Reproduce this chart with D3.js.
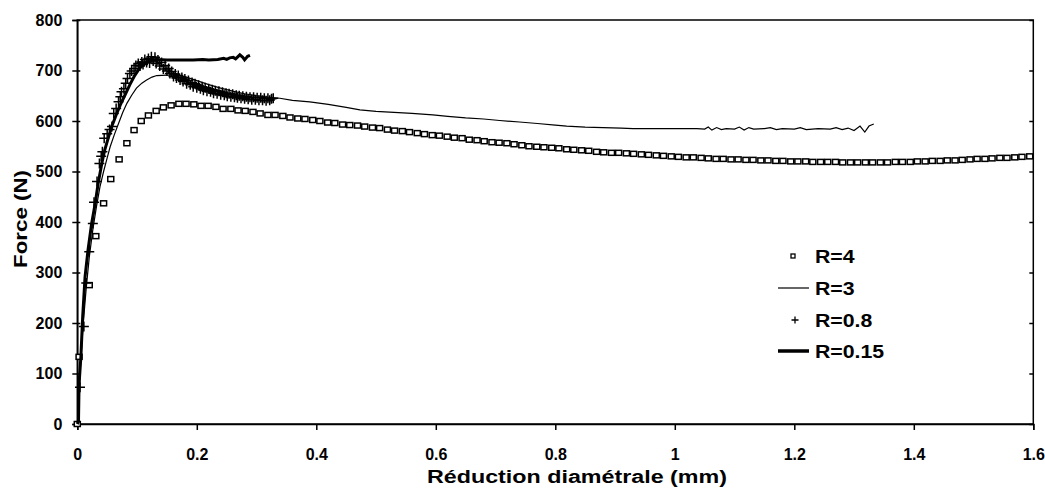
<!DOCTYPE html>
<html><head><meta charset="utf-8">
<script src="https://cdn.jsdelivr.net/npm/d3@7"></script>
<style>body{margin:0;background:#fff}svg{display:block}text{font-family:"Liberation Sans",Arial,sans-serif;font-weight:bold;fill:#000}</style>
</head><body><svg id="c" width="1045" height="491"></svg>
<script>
const xTicks = [0, 0.2, 0.4, 0.6, 0.8, 1, 1.2, 1.4, 1.6];
const yTicks = [0, 100, 200, 300, 400, 500, 600, 700, 800];
const seriesNames = ["R=4", "R=3", "R=0.8", "R=0.15"];
const xTitle = "Réduction diamétrale (mm)";
const yTitle = "Force (N)";

const r4 = [[0,0],[0.003,133],[0.020,275],[0.031,372],[0.044,437],[0.056,485],[0.070,524],[0.083,556],[0.095,582],[0.107,600],
[0.119,611],[0.132,620],[0.144,627],[0.157,631],[0.170,634],[0.182,634],[0.195,633],[0.207,630],[0.219,630],[0.232,628],
[0.244,624],[0.257,624],[0.269,621],[0.281,620],[0.294,618],[0.306,615],[0.319,612],[0.331,612],[0.344,610],[0.356,607],
[0.369,605],[0.381,604],[0.394,602],[0.406,600],[0.419,597],[0.431,596],[0.444,593],[0.456,592],[0.469,591],[0.481,589],
[0.494,587],[0.506,586],[0.519,583],[0.531,581],[0.544,580],[0.556,578],[0.569,576],[0.581,574],[0.594,572],[0.606,571],
[0.619,569],[0.631,567],[0.644,566],[0.656,563],[0.669,562],[0.681,560],[0.694,558],[0.706,557],[0.719,556],[0.731,554],
[0.744,552],[0.756,550],[0.769,549],[0.781,548],[0.794,547],[0.806,546],[0.819,544],[0.831,543],[0.844,542],[0.856,541],
[0.869,539],[0.881,538],[0.894,537],[0.906,537],[0.919,536],[0.931,535],[0.944,534],[0.956,533],[0.969,532],[0.981,531],
[0.994,530],[1.006,529],[1.019,528],[1.031,528],[1.044,527],[1.056,526],[1.069,525],[1.081,525],[1.094,524],[1.106,524],
[1.119,523],[1.131,523],[1.144,522],[1.156,522],[1.169,521],[1.181,521],[1.194,520],[1.206,520],[1.219,520],[1.231,519],
[1.244,519],[1.256,519],[1.269,519],[1.281,518],[1.294,518],[1.306,518],[1.319,518],[1.331,518],[1.344,518],[1.356,518],
[1.369,519],[1.381,519],[1.394,519],[1.406,520],[1.419,520],[1.431,521],[1.444,521],[1.456,522],[1.469,522],[1.481,523],
[1.494,524],[1.506,525],[1.519,525],[1.531,526],[1.544,527],[1.556,527],[1.569,528],[1.581,529],[1.594,530]];

const r3 = [[0,0],[0.003,60],[0.006,130],[0.010,200],[0.015,270],[0.020,330],[0.026,385],[0.032,430],[0.038,470],[0.044,500],
[0.050,527],[0.055,549],[0.062,573],[0.069,595],[0.076,617],[0.083,635],[0.091,651],[0.099,665],[0.108,675],[0.116,681],
[0.125,687],[0.133,690],[0.150,691],[0.166,691],[0.180,688],[0.200,680],[0.220,672],[0.240,665],[0.260,659],[0.280,654],
[0.300,650],[0.320,647],[0.339,645],[0.360,641],[0.389,638],[0.420,633],[0.450,627],[0.473,622],[0.500,619],[0.530,617],
[0.560,615],[0.595,612],[0.620,609],[0.650,606],[0.680,604],[0.707,601],[0.740,598],[0.770,595],[0.800,592],[0.819,590],
[0.850,588],[0.880,587],[0.910,586],[0.930,585],[0.960,585],[1.000,585],[1.037,585],[1.050,584],[1.056,588],[1.062,582],
[1.070,587],[1.078,583],[1.086,585],[1.100,584],[1.108,588],[1.116,582],[1.124,587],[1.132,584],[1.150,585],[1.160,587],
[1.170,583],[1.180,585],[1.200,584],[1.210,587],[1.220,583],[1.240,585],[1.260,584],[1.270,587],[1.280,583],[1.290,586],
[1.300,581],[1.310,590],[1.318,578],[1.325,590],[1.333,594]];

const r08 = [[0.0045,73],[0.011,193],[0.015,279],[0.020,341],[0.026,397],[0.028,439],[0.033,480],[0.037,516],[0.040,530],[0.042,539],
[0.045,566],[0.050,575],[0.054,583],[0.058,589],[0.061,615],[0.065,625],[0.069,638],[0.072,648],[0.074,658],[0.078,664],
[0.081,675],[0.084,684],[0.088,694],[0.091,699],[0.095,704],[0.098,710],[0.102,714],[0.105,709],[0.108,717],[0.110,712],
[0.113,722],[0.116,716],[0.119,724],[0.121,715],[0.124,727],[0.127,719],[0.130,726],[0.132,714],[0.135,721],[0.138,709],
[0.141,716],[0.144,703],[0.147,710],[0.150,699],[0.153,704],[0.155,694],[0.158,698],[0.161,688],[0.164,693],[0.166,685],
[0.169,690],[0.172,681],[0.175,686],[0.177,678],[0.180,683],[0.183,674],[0.186,680],[0.189,672],[0.192,676],[0.194,668],
[0.197,674],[0.200,666],[0.203,671],[0.206,664],[0.209,668],[0.211,661],[0.214,666],[0.217,659],[0.220,664],[0.223,658],
[0.226,662],[0.228,655],[0.231,660],[0.234,654],[0.237,659],[0.240,652],[0.243,657],[0.246,651],[0.249,655],[0.251,649],
[0.254,654],[0.257,648],[0.260,653],[0.263,647],[0.266,651],[0.268,646],[0.271,650],[0.274,645],[0.277,649],[0.280,644],
[0.283,648],[0.286,643],[0.289,647],[0.292,642],[0.295,647],[0.298,642],[0.301,646],[0.304,641],[0.307,646],[0.310,641],
[0.313,645],[0.316,640],[0.319,645],[0.322,641],[0.325,644],[0.328,645]];

const r015 = [[0,0],[0.002,5],[0.003,80],[0.006,133],[0.009,212],[0.013,292],[0.018,345],[0.024,397],[0.030,437],[0.035,477],
[0.041,516],[0.046,543],[0.052,567],[0.058,590],[0.065,612],[0.072,632],[0.080,652],[0.088,672],[0.096,690],[0.104,704],
[0.112,713],[0.120,719],[0.133,722],[0.150,721],[0.170,721],[0.194,721],[0.210,722],[0.220,721],[0.235,722],[0.245,724],
[0.250,722],[0.255,725],[0.261,726],[0.265,723],[0.272,731],[0.277,726],[0.280,721],[0.285,728],[0.289,730]];

const svg = d3.select("#c");
const L = 77.3, R = 1033.3, T = 20, B = 424;
const x = d3.scaleLinear().domain([0, 1.6]).range([L, R]);
const y = d3.scaleLinear().domain([0, 800]).range([B, T]);

svg.append("rect").attr("x", L).attr("y", T).attr("width", R - L).attr("height", B - T)
  .attr("fill", "none").attr("stroke", "#000").attr("stroke-width", 1.5);

const xa = svg.append("g").attr("transform", `translate(0,${B})`)
  .call(d3.axisBottom(x).tickValues(xTicks).tickSize(6).tickPadding(19).tickFormat(d => d3.format("")(d)));
xa.select(".domain").attr("stroke-width", 1.5);
xa.selectAll(".tick line").attr("stroke-width", 1.5);
xa.selectAll("text").style("font-size", "16px").attr("fill", "#000");

const ya = svg.append("g").attr("transform", `translate(${L},0)`)
  .call(d3.axisLeft(y).tickValues(yTicks).tickSize(5).tickPadding(10));
ya.select(".domain").attr("stroke-width", 1.5);
ya.selectAll(".tick line").attr("stroke-width", 1.5).attr("x2", -5).attr("x1", 3);
ya.selectAll("text").style("font-size", "16px").attr("fill", "#000");

const ra = svg.append("g").attr("transform", `translate(${R},0)`)
  .call(d3.axisLeft(y).tickValues(yTicks).tickSize(4).tickFormat(""));
ra.select(".domain").remove();
ra.selectAll(".tick line").attr("stroke-width", 1.5);

svg.append("text").attr("x", 427).attr("y", 483)
  .attr("textLength", 300).attr("lengthAdjust", "spacingAndGlyphs")
  .style("font-size", "18px").text(xTitle);
svg.append("text").attr("transform", "translate(27,268) rotate(-90)")
  .attr("textLength", 98).attr("lengthAdjust", "spacingAndGlyphs")
  .style("font-size", "18px").text(yTitle);

const g = svg.append("g");
const line = d3.line().x(d => x(d[0])).y(d => y(d[1]));

g.selectAll("rect.r4").data(r4).join("rect").attr("class", "r4")
  .attr("x", d => x(d[0]) - 3).attr("y", d => y(d[1]) - 2.5).attr("width", 6).attr("height", 5)
  .attr("fill", "#fff").attr("stroke", "#000").attr("stroke-width", 1.5);

g.append("path").datum(r3).attr("d", line).attr("fill", "none").attr("stroke", "#000").attr("stroke-width", 1.2);

g.append("path").datum(r015).attr("d", line).attr("fill", "none").attr("stroke", "#000").attr("stroke-width", 3);

const plus = (cx, cy, s) => `M${cx - s},${cy}H${cx + s}M${cx},${cy - s}V${cy + s}`;
g.append("path").attr("d", r08.map(d => plus(x(d[0]), y(d[1]), 5)).join(""))
  .attr("fill", "none").attr("stroke", "#000").attr("stroke-width", 1.5);

const lg = svg.append("g");
const ly = [256, 288, 320, 351];
lg.append("rect").attr("x", 791).attr("y", ly[0] - 2).attr("width", 4).attr("height", 4)
  .attr("fill", "#fff").attr("stroke", "#000").attr("stroke-width", 1.3);
lg.append("line").attr("x1", 778).attr("x2", 809).attr("y1", ly[1]).attr("y2", ly[1]).attr("stroke", "#000").attr("stroke-width", 1.2);
lg.append("path").attr("d", plus(795, ly[2], 3.5)).attr("stroke", "#000").attr("stroke-width", 1.3);
lg.append("line").attr("x1", 778).attr("x2", 809).attr("y1", ly[3]).attr("y2", ly[3]).attr("stroke", "#000").attr("stroke-width", 3.5);
lg.selectAll("text").data(seriesNames).join("text")
  .attr("transform", (d, i) => `translate(815,${ly[i]}) scale(1.12,1)`)
  .attr("dy", "0.35em").style("font-size", "19px").text(d => d);
</script></body></html>
